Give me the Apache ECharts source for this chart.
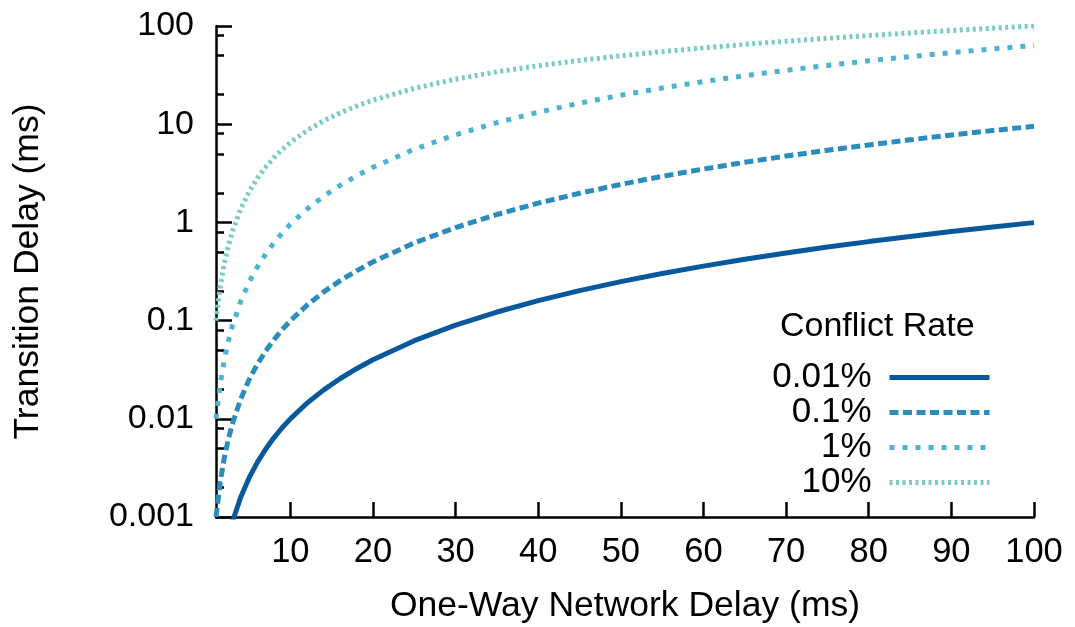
<!DOCTYPE html>
<html><head><meta charset="utf-8">
<script src="https://cdn.jsdelivr.net/npm/echarts@6/dist/echarts.min.js"></script>
<style>html,body{margin:0;padding:0;background:#fff}#c{width:1075px;height:627px}</style>
</head><body><div id="c"></div><script>
// One-way network delay (ms)
const delays = [1,1.5,2,2.5,3,4,5,6,7,8,9,10,12,14,16,18,20,25,30,35,40,45,50,55,60,65,70,75,80,85,90,95,100];
// Transition delay (ms) per conflict rate
const rate0_01 = [0.0001,0.000225,0.0004,0.000625,0.0009,0.0016,0.0025,0.0036,0.0049,0.0064,0.0081,0.009995,0.01439,0.01959,0.02558,0.03237,0.03996,0.06242,0.08987,0.12229,0.15968,0.20204,0.24938,0.30167,0.35892,0.42113,0.48829,0.56039,0.63744,0.71943,0.80636,0.89821,0.99502];
const rate0_1 = [0.001,0.002248,0.003998,0.006245,0.008991,0.015976,0.02495,0.03591,0.04885,0.06378,0.08068,0.09955,0.1432,0.19473,0.2541,0.32126,0.3962,0.6176,0.8871,1.2044,1.5692,1.9811,2.4397,2.9448,3.4959,4.0926,4.7348,5.4219,6.1538,6.9298,7.7499,8.6137,9.5208];
const rate1 = [0.01,0.022444,0.0398,0.06203,0.0891,0.1576,0.2450,0.3511,0.4755,0.6180,0.7783,0.9562,1.3634,1.8376,2.3767,2.9787,3.6419,5.5545,7.809,10.379,13.241,16.372,19.750,23.355,27.171,31.178,35.361,39.706,44.198,48.825,53.574,58.435,63.397];
const rate10 = [0.1,0.21928,0.38,0.57892,0.813,1.3756,2.0476,2.8114,3.6519,4.5563,5.5132,6.5132,8.6108,10.797,13.035,15.298,17.568,23.205,28.728,34.124,39.409,44.607,49.742,54.833,59.892,64.931,69.956,74.972,79.983,84.989,89.993,94.996,99.997];
const seriesNames = ['0.01%','0.1%','1%','10%'];
const xTickValues = [10,20,30,40,50,60,70,80,90,100];
const yMinorTickValues = [0.002,0.005,0.008,0.02,0.05,0.08,0.2,0.5,0.8,2,5,8,20,50,80];

const FONT = '"Liberation Sans", Arial, Helvetica, sans-serif';
const colors = ['#08589e','#2b8cbe','#4eb3d3','#7bccc4'];
const dashes = ['solid',[9,4.5],[5,8],[3,3.5]];
const allY = [rate0_01, rate0_1, rate1, rate10];

const chart = echarts.init(document.getElementById('c'), null, {renderer:'canvas'});
const axisLineStyle = {color:'#000', width:2.5};
chart.setOption({
  animation:false,
  backgroundColor:'#fff',
  title:{text:'Conflict Rate', left:780, top:310, padding:0,
    textStyle:{fontSize:34, fontWeight:'normal', color:'#000', fontFamily:FONT}},
  legend:{data:seriesNames, orient:'vertical', align:'right', right:83, top:360, padding:0,
    itemWidth:100, itemHeight:10, itemGap:0, selectedMode:false,
    textStyle:{fontSize:35, color:'#000', fontFamily:FONT, lineHeight:35, padding:[0,13,0,0]},
    lineStyle:{width:5}, itemStyle:{opacity:0}},
  grid:{left:216, right:41, top:26, bottom:110, outerBoundsMode:'none'},
  xAxis:{type:'value', min:1, max:100,
    name:'One-Way Network Delay (ms)', nameLocation:'middle', nameGap:71,
    nameTextStyle:{fontSize:35.5, color:'#000', fontFamily:FONT},
    axisLine:{show:true, lineStyle:axisLineStyle},
    axisTick:{show:true, inside:true, length:15, customValues:xTickValues, lineStyle:axisLineStyle},
    axisLabel:{fontSize:34.5, color:'#000', fontFamily:FONT, margin:18, customValues:xTickValues},
    splitLine:{show:false}},
  yAxis:[
    {type:'log', logBase:10, min:0.001, max:100, position:'left',
     name:'Transition Delay (ms)', nameLocation:'middle', nameGap:170,
     nameTextStyle:{fontSize:35.5, color:'#000', fontFamily:FONT},
     axisLine:{show:true, lineStyle:axisLineStyle},
     axisTick:{show:true, inside:true, length:16, lineStyle:axisLineStyle},
     axisLabel:{fontSize:34, color:'#000', fontFamily:FONT, margin:22,
       formatter:function(v){return String(Number(Number(v).toPrecision(3)));}},
     splitLine:{show:false}},
    {type:'log', logBase:10, min:0.001, max:100, position:'left',
     axisLine:{show:false},
     axisTick:{show:true, inside:true, length:8, customValues:yMinorTickValues, lineStyle:axisLineStyle},
     axisLabel:{show:false}, splitLine:{show:false}}
  ],
  series: seriesNames.map(function(n,i){
    return {name:n, type:'line', yAxisIndex:0, symbol:'none', showSymbol:false, clip:true,
      data: delays.map(function(x,j){return [x, allY[i][j]];}),
      lineStyle:{color:colors[i], width:5, type:dashes[i], cap:'butt'},
      itemStyle:{color:colors[i]}};
  })
});
</script></body></html>
